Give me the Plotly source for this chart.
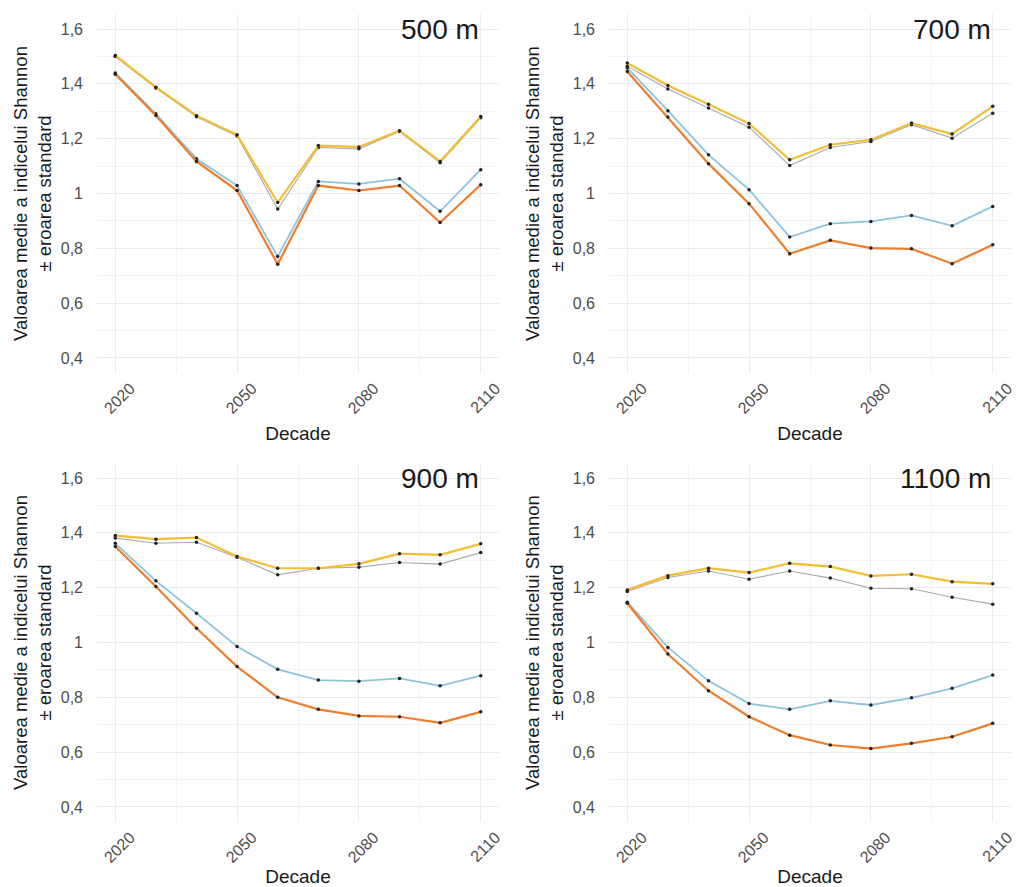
import plotly.graph_objects as go

decades = [2020, 2030, 2040, 2050, 2060, 2070, 2080, 2090, 2100, 2110]
panel_labels = ["500 m", "700 m", "900 m", "1100 m"]
series_names = ["Scenariul 1", "Scenariul 2", "Scenariul 3", "Scenariul 4"]

# 500 m
y500_gray   = [1.500, 1.385, 1.280, 1.210, 0.943, 1.168, 1.163, 1.226, 1.112, 1.276]
y500_yellow = [1.504, 1.388, 1.284, 1.214, 0.967, 1.175, 1.170, 1.229, 1.117, 1.281]
y500_blue   = [1.440, 1.291, 1.127, 1.029, 0.770, 1.044, 1.035, 1.054, 0.935, 1.087]
y500_orange = [1.435, 1.285, 1.117, 1.011, 0.742, 1.029, 1.011, 1.029, 0.894, 1.032]
# 700 m
y700_gray   = [1.464, 1.381, 1.312, 1.242, 1.102, 1.168, 1.190, 1.251, 1.202, 1.293]
y700_yellow = [1.476, 1.394, 1.326, 1.255, 1.123, 1.178, 1.196, 1.257, 1.217, 1.318]
y700_blue   = [1.458, 1.302, 1.141, 1.014, 0.841, 0.890, 0.898, 0.920, 0.882, 0.953]
y700_orange = [1.445, 1.279, 1.109, 0.963, 0.780, 0.829, 0.801, 0.798, 0.744, 0.813]
# 900 m
y900_gray   = [1.381, 1.362, 1.366, 1.311, 1.247, 1.271, 1.275, 1.292, 1.286, 1.328]
y900_yellow = [1.390, 1.377, 1.383, 1.314, 1.271, 1.271, 1.287, 1.324, 1.320, 1.360]
y900_blue   = [1.362, 1.225, 1.107, 0.985, 0.902, 0.863, 0.859, 0.869, 0.842, 0.879]
y900_orange = [1.350, 1.204, 1.052, 0.912, 0.800, 0.756, 0.732, 0.729, 0.707, 0.747]
# 1100 m
y1100_gray   = [1.186, 1.237, 1.261, 1.231, 1.261, 1.235, 1.198, 1.196, 1.165, 1.140]
y1100_yellow = [1.192, 1.244, 1.271, 1.255, 1.289, 1.277, 1.243, 1.249, 1.222, 1.214]
y1100_blue   = [1.147, 0.982, 0.860, 0.777, 0.756, 0.787, 0.772, 0.798, 0.833, 0.881]
y1100_orange = [1.143, 0.958, 0.824, 0.729, 0.662, 0.626, 0.613, 0.632, 0.656, 0.705]

x_tickvals = [2020, 2050, 2080, 2110]
y_tickvals = [0.4, 0.6, 0.8, 1.0, 1.2, 1.4, 1.6]
y_ticktext = ["0,4", "0,6", "0,8", "1", "1,2", "1,4", "1,6"]

panels = [
    [y500_gray, y500_yellow, y500_blue, y500_orange],
    [y700_gray, y700_yellow, y700_blue, y700_orange],
    [y900_gray, y900_yellow, y900_blue, y900_orange],
    [y1100_gray, y1100_yellow, y1100_blue, y1100_orange],
]
colors = ["#ABABAB", "#F3BE33", "#8DC3DD", "#F07D2C"]
widths = [1.1, 2.2, 1.8, 2.2]

W, H = 1017, 887
FONT = "Liberation Sans, Arial, sans-serif"
boxes = [  # (x0, x1, ytop, ybottom) in px
    (97, 499, 14, 373),
    (609, 1011, 14, 373),
    (97, 499, 463, 822),
    (609, 1011, 463, 822),
]

fig = go.Figure()
layout = dict(
    width=W, height=H, margin=dict(l=0, r=0, t=0, b=0),
    paper_bgcolor="white", plot_bgcolor="white", showlegend=False,
    font=dict(family=FONT, color="#4D4D4D"),
    separators=",.",
)
annotations = []
for i, (series, box) in enumerate(zip(panels, boxes)):
    n = "" if i == 0 else str(i + 1)
    xa, ya = "x" + n, "y" + n
    for s, (vals, c, w) in enumerate(zip(series, colors, widths)):
        fig.add_trace(go.Scatter(
            x=decades, y=vals, mode="lines+markers", name=series_names[s],
            line=dict(color=c, width=w),
            marker=dict(color="#222222", size=3.5),
            xaxis=xa, yaxis=ya, hoverinfo="x+y+name"))
    x0, x1, yt, yb = box
    layout["xaxis" + n] = dict(
        domain=[x0 / W, x1 / W], anchor=ya, range=[2015.5, 2114.5],
        tickvals=x_tickvals, ticktext=[str(v) for v in x_tickvals],
        tickangle=-45, tickfont=dict(size=16, color="#4D4D4D"),
        ticklabelshift=15, ticklabelstandoff=2,
        showgrid=True, gridcolor="#EBEBEB", gridwidth=1.2,
        minor=dict(tickvals=[2035, 2065, 2095], showgrid=True, gridcolor="#F3F3F3", gridwidth=1),
        zeroline=False, showline=False, ticks="", automargin=False,
        title=dict(text="Decade", font=dict(size=19, color="#1A1A1A"), standoff=10),
    )
    layout["yaxis" + n] = dict(
        domain=[1 - yb / H, 1 - yt / H], anchor=xa, range=[0.345, 1.655],
        tickvals=y_tickvals, ticktext=y_ticktext,
        tickfont=dict(size=16, color="#4D4D4D"), ticklabelstandoff=13,
        showgrid=True, gridcolor="#EBEBEB", gridwidth=1.2,
        minor=dict(tickvals=[0.5, 0.7, 0.9, 1.1, 1.3, 1.5], showgrid=True, gridcolor="#F3F3F3", gridwidth=1),
        zeroline=False, showline=False, ticks="", automargin=False,
        title=dict(text="Valoarea medie a indicelui Shannon<br>± eroarea standard",
                   font=dict(size=18.5, color="#1A1A1A"), standoff=4),
    )
    annotations.append(dict(
        x=2110, y=1.6, xref=xa, yref=ya, text=panel_labels[i], showarrow=False,
        xanchor="right", yanchor="middle", font=dict(size=28, color="#1A1A1A", family=FONT)))

layout["annotations"] = annotations
fig.update_layout(**layout)
fig.write_html("out.html")
